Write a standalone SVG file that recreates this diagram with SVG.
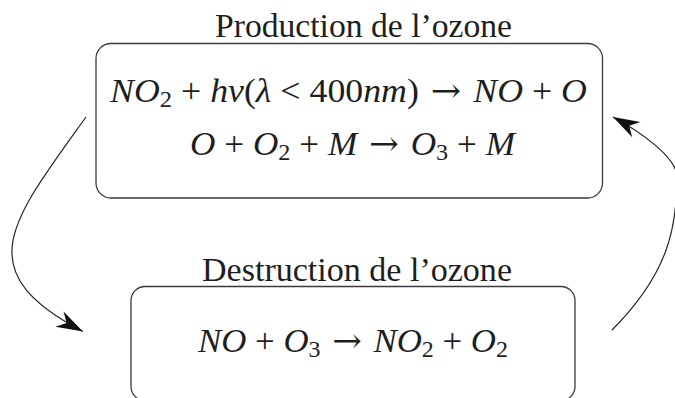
<svg xmlns="http://www.w3.org/2000/svg" width="675" height="398" viewBox="0 0 675 398">
<defs>
<style>
.box{fill:none;stroke:#3a3a3a;stroke-width:1.3}
.t{font-family:"Liberation Serif","DejaVu Serif",serif;font-size:33px;fill:#1e1e1e}
.m{font-family:"Liberation Serif","DejaVu Serif",serif;font-size:33.5px;fill:#1e1e1e}
.i{font-style:italic}
.s{font-size:23px}
.a{font-family:"DejaVu Serif",serif;font-size:34px}
.c{fill:none;stroke:#262626;stroke-width:1.2}
</style>
<marker id="ah" markerUnits="userSpaceOnUse" markerWidth="30" markerHeight="30" viewBox="-24 -10 26 20" refX="0" refY="0" orient="auto" overflow="visible">
<path d="M0,0 L-23,-7.5 L-16,0 L-23,7.5 Z" fill="#111"/>
</marker>
</defs>
<g id="production">
<text class="t" x="215" y="37" textLength="297" lengthAdjust="spacingAndGlyphs">Production de l’ozone</text>
<rect class="box" x="96" y="43.5" width="506.5" height="154.5" rx="15"/>
<text class="m" x="110" y="102" textLength="477" lengthAdjust="spacingAndGlyphs" xml:space="preserve"><tspan class="i">NO</tspan><tspan class="s" dy="5">2</tspan><tspan dy="-5"> + </tspan><tspan class="i">hv</tspan><tspan>(</tspan><tspan class="i">λ</tspan><tspan> &lt; 400</tspan><tspan class="i">nm</tspan><tspan>)&#8196;</tspan><tspan class="a">→</tspan><tspan>&#8196;</tspan><tspan class="i">NO</tspan><tspan> + </tspan><tspan class="i">O</tspan></text>
<text class="m" x="190" y="155" textLength="325" lengthAdjust="spacingAndGlyphs" xml:space="preserve"><tspan class="i">O</tspan><tspan> + </tspan><tspan class="i">O</tspan><tspan class="s" dy="5">2</tspan><tspan dy="-5"> + </tspan><tspan class="i">M</tspan><tspan>&#8196;</tspan><tspan class="a">→</tspan><tspan>&#8196;</tspan><tspan class="i">O</tspan><tspan class="s" dy="5">3</tspan><tspan dy="-5"> + </tspan><tspan class="i">M</tspan></text>
</g>
<g id="destruction">
<text class="t" x="202" y="281" textLength="310" lengthAdjust="spacingAndGlyphs">Destruction de l’ozone</text>
<rect class="box" x="131" y="286.5" width="444" height="114" rx="14"/>
<text class="m" x="198" y="352" textLength="310" lengthAdjust="spacingAndGlyphs" xml:space="preserve"><tspan class="i">NO</tspan><tspan> + </tspan><tspan class="i">O</tspan><tspan class="s" dy="5">3</tspan><tspan dy="-5">&#8196;</tspan><tspan class="a">→</tspan><tspan>&#8196;</tspan><tspan class="i">NO</tspan><tspan class="s" dy="5">2</tspan><tspan dy="-5"> + </tspan><tspan class="i">O</tspan><tspan class="s" dy="5">2</tspan></text>
</g>
<g id="connectors">
<path class="c" d="M86,117 C10,223 -32,271 83,331.5" marker-end="url(#ah)"/>
<path class="c" d="M612,330 C668.6,273.4 677,227 677,177 C677,157 639.4,131.3 613,117" marker-end="url(#ah)"/>
</g>
</svg>
